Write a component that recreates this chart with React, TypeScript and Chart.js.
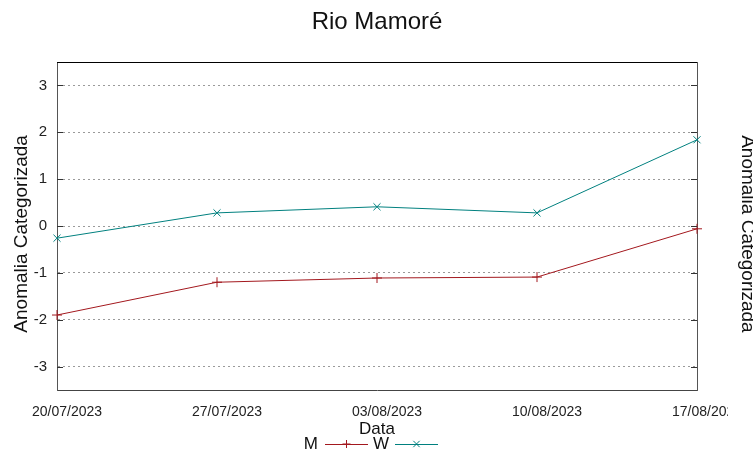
import React, { useEffect, useRef } from "react";
import { Chart, registerables } from "chart.js";

Chart.register(...registerables);

const chartTitle = "Rio Mamoré";
const categories = ["20/07/2023", "27/07/2023", "03/08/2023", "10/08/2023", "17/08/2023"];
const seriesM = [-1.9, -1.2, -1.11, -1.09, -0.06];
const seriesW = [-0.26, 0.28, 0.41, 0.28, 1.84];
const yTicks = [-3, -2, -1, 0, 1, 2, 3];
const yTitle = "Anomalia Categorizada";
const xTitle = "Data";

const RED = "#a3181e";
const TEAL = "#00807f";
const FONT = "'Liberation Sans', Arial, sans-serif";

const decorPlugin = {
  id: "decor",
  afterDraw(chart: any) {
    const { ctx, chartArea } = chart;
    const { left, right, top } = chartArea;
    ctx.save();
    // clip the last x label like the reference image edge
    ctx.fillStyle = "#fff";
    ctx.fillRect(728, 398, 25, 26);
    // top border
    ctx.strokeStyle = "#000";
    ctx.lineWidth = 1;
    ctx.beginPath();
    ctx.moveTo(left, top + 0.5);
    ctx.lineTo(right, top + 0.5);
    ctx.stroke();
    // inward tick marks on y axes
    const y = chart.scales.y;
    ctx.strokeStyle = "#333";
    yTicks.forEach((v) => {
      const py = Math.round(y.getPixelForValue(v)) + 0.5;
      ctx.beginPath();
      ctx.moveTo(left, py);
      ctx.lineTo(left + 6, py);
      ctx.moveTo(right - 6, py);
      ctx.lineTo(right, py);
      ctx.stroke();
    });
    // title
    ctx.fillStyle = "#111";
    ctx.font = `24px ${FONT}`;
    ctx.textAlign = "center";
    ctx.textBaseline = "middle";
    ctx.fillText(chartTitle, 377, 22);
    // legend
    const ly = 444;
    ctx.font = `17px ${FONT}`;
    ctx.textAlign = "right";
    ctx.fillStyle = "#111";
    ctx.fillText("M", 318, ly);
    ctx.fillText("W", 389, ly);
    const drawSample = (x0: number, x1: number, color: string, style: string) => {
      ctx.strokeStyle = color;
      ctx.lineWidth = 1;
      ctx.beginPath();
      ctx.moveTo(x0, ly + 0.5);
      ctx.lineTo(x1, ly + 0.5);
      ctx.stroke();
      const cx = (x0 + x1) / 2;
      const r = 4;
      ctx.beginPath();
      if (style === "cross") {
        ctx.moveTo(cx, ly - r);
        ctx.lineTo(cx, ly + r);
        ctx.moveTo(cx - r, ly);
        ctx.lineTo(cx + r, ly);
      } else {
        ctx.moveTo(cx - r * 0.8, ly - r * 0.8);
        ctx.lineTo(cx + r * 0.8, ly + r * 0.8);
        ctx.moveTo(cx + r * 0.8, ly - r * 0.8);
        ctx.lineTo(cx - r * 0.8, ly + r * 0.8);
      }
      ctx.stroke();
    };
    drawSample(325, 368, RED, "cross");
    drawSample(395, 438, TEAL, "crossRot");
    ctx.restore();
  },
};

export default function App() {
  const ref = useRef<HTMLCanvasElement | null>(null);
  useEffect(() => {
    document.body.style.margin = "0";
    const canvas = ref.current;
    if (!canvas) return;
    const chart = new Chart(canvas, {
      type: "line",
      data: {
        labels: categories,
        datasets: [
          {
            label: "M",
            data: seriesM,
            borderColor: RED,
            backgroundColor: RED,
            borderWidth: 1,
            pointStyle: "cross",
            pointRadius: 5,
            pointBorderWidth: 1,
            tension: 0,
          },
          {
            label: "W",
            data: seriesW,
            borderColor: TEAL,
            backgroundColor: TEAL,
            borderWidth: 1,
            pointStyle: "crossRot",
            pointRadius: 5,
            pointBorderWidth: 1,
            tension: 0,
          },
        ],
      },
      plugins: [decorPlugin],
      options: {
        animation: false,
        responsive: false,
        maintainAspectRatio: false,
        layout: { padding: { top: 62, left: 0, right: 0, bottom: 0 } },
        plugins: {
          legend: { display: false },
          title: { display: false },
          tooltip: { enabled: false },
        },
        scales: {
          x: {
            type: "category",
            offset: false,
            grid: { display: false, drawTicks: false },
            border: { display: true, color: "#444", width: 1 },
            ticks: {
              autoSkip: false,
              maxRotation: 0,
              minRotation: 0,
              padding: 14,
              labelOffset: 10,
              color: "#222",
              font: { family: FONT, size: 14 },
            },
            title: {
              display: true,
              text: xTitle,
              color: "#111",
              font: { family: FONT, size: 17 },
              padding: { top: 0, bottom: 19 },
            },
            afterFit: (s: any) => {
              s.height = 69;
            },
          },
          y: {
            type: "linear",
            position: "left",
            min: -3.5,
            max: 3.5,
            afterBuildTicks: (s: any) => {
              s.ticks = yTicks.map((v) => ({ value: v }));
            },
            grid: { color: "#9a9a9a", lineWidth: 1, drawTicks: false },
            border: { display: true, color: "#555", width: 1, dash: [2, 3] },
            ticks: {
              padding: 10,
              color: "#222",
              font: { family: FONT, size: 15 },
              callback: (v: any) => String(v),
            },
            title: {
              display: true,
              text: yTitle + "   ",
              color: "#111",
              font: { family: FONT, size: 19 },
              padding: { top: 10, bottom: 0 },
            },
            afterFit: (s: any) => {
              s.width = 57;
            },
          },
          y2: {
            type: "linear",
            position: "right",
            min: -3.5,
            max: 3.5,
            grid: { display: false, drawTicks: false },
            border: { display: true, color: "#555", width: 1 },
            ticks: { display: false },
            title: {
              display: true,
              text: "   " + yTitle,
              color: "#111",
              font: { family: FONT, size: 19, lineHeight: 1 },
              padding: { top: -4, bottom: 0 },
            },
            afterFit: (s: any) => {
              s.width = 56;
            },
          },
        },
      },
    });
    return () => chart.destroy();
  }, []);
  return <canvas ref={ref} width={753} height={459} style={{ display: "block", width: 753, height: 459 }} />;
}
